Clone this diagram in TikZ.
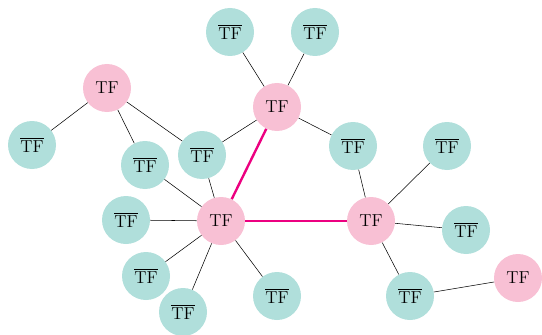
\documentclass[tikz,border=0pt]{standalone}
\usepackage{amsmath}
\usepackage{tikz}
\usetikzlibrary{positioning}
\definecolor{tfpink}{RGB}{248,192,212}
\definecolor{tfteal}{RGB}{176,223,219}
\definecolor{tfmag}{RGB}{236,0,128}
\newcommand{\ntfl}{$\overline{\text{TF}}$}
\begin{document}
\begin{tikzpicture}[x=0.75pt, y=-0.75pt,
      tf/.style={circle, fill=tfpink, minimum size=36pt, inner sep=0pt, font=\fontsize{13}{15}\selectfont},
      ntf/.style={circle, fill=tfteal, minimum size=36pt, inner sep=0pt, font=\fontsize{13}{15}\selectfont},
      hot/.style={tfmag, line width=1.8pt}]
    \useasboundingbox (0,0) rectangle (542,335);
    \node[tf]  (a) at (107,88)  {TF};
    \node[ntf] (a1) at (32,145)  {\ntfl};
    \node[ntf] (a2) at (145,165) {\ntfl};
    \node[ntf] (ab) at (202,155) {\ntfl};
    \node[tf]  (b) at (277,107) {TF};
    \node[ntf] (b1) at (230,32)  {\ntfl};
    \node[ntf] (b2) at (315,32)  {\ntfl};
    \node[ntf] (bd) at (353,146) {\ntfl};
    \node[tf]  (c) at (221,221) {TF};
    \node[ntf] (c1) at (126,220) {\ntfl};
    \node[ntf] (c2) at (146,276) {\ntfl};
    \node[ntf] (c3) at (183,312) {\ntfl};
    \node[ntf] (c4) at (277,296) {\ntfl};
    \node[tf]  (d) at (371,221) {TF};
    \node[ntf] (d1) at (447,146) {\ntfl};
    \node[ntf] (d2) at (466,230) {\ntfl};
    \node[ntf] (d3) at (410,296) {\ntfl};
    \node[tf]  (e) at (518,278) {TF};
    % plain links
    \draw (a) -- (a1);
    \draw (a) -- (a2);
    \draw (a) -- (ab);
    \draw (b) -- (ab);
    \draw (b) -- (b1);
    \draw (b) -- (b2);
    \draw (b) -- (bd);
    \draw (c) -- (ab);
    \draw (c) -- (a2);
    \draw (c) -- (c1);
    \draw (c) -- (c2);
    \draw (c) -- (c3);
    \draw (c) -- (c4);
    \draw (d) -- (bd);
    \draw (d) -- (d1);
    \draw (d) -- (d2);
    \draw (d) -- (d3);
    \draw (d3) -- (e);
    % highlighted links
    \draw[hot] (b) -- (c);
    \draw[hot] (c) -- (d);
\end{tikzpicture}
\end{document}
